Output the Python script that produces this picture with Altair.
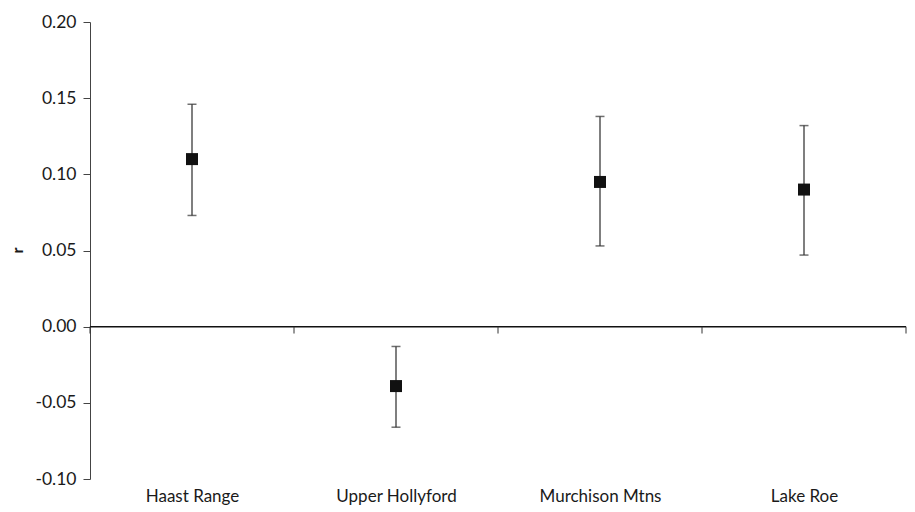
import altair as alt
import pandas as pd

categories = ["Haast Range", "Upper Hollyford", "Murchison Mtns", "Lake Roe"]
r_values = [0.110, -0.039, 0.095, 0.090]
upper = [0.146, -0.013, 0.138, 0.132]
lower = [0.073, -0.066, 0.053, 0.047]
y_ticks = [-0.10, -0.05, 0.00, 0.05, 0.10, 0.15, 0.20]
band_edges = [0, 1, 2, 3, 4]

df = pd.DataFrame({
    "site": categories,
    "pos": [i + 0.5 for i in range(len(categories))],
    "r": r_values,
    "hi": upper,
    "lo": lower,
})
edges = pd.DataFrame({"edge": band_edges, "y0": [0.0] * len(band_edges)})
zero = pd.DataFrame({"x0": [band_edges[0]], "x1": [band_edges[-1]], "y0": [0.0]})

label_expr = "[" + ",".join("'%s'" % c for c in categories) + "][floor(datum.value)]"

xscale = alt.Scale(domain=[band_edges[0], band_edges[-1]], nice=False, zero=False)
yscale = alt.Scale(domain=[-0.10, 0.20], nice=False, zero=False)

x_axis = alt.Axis(
    values=[p for p in df["pos"]], labelExpr=label_expr, ticks=False, domain=False,
    grid=False, title=None, labelPadding=9, labelFontSize=17, labelColor="#1a1a1a",
    labelFont="Lato",
)
y_axis = alt.Axis(
    values=y_ticks, labelExpr="replace(format(datum.value, '.2f'), '\u2212', '-')",
    grid=False, tickSize=7, tickColor="#444444",
    domainColor="#444444", labelPadding=7, labelFontSize=17.5, labelColor="#1a1a1a",
    labelFont="Lato", title="r", titleFont="Lato", titleFontSize=16,
    titleFontWeight="bold", titleColor="#1a1a1a", titleX=-65, titleY=228,
)

base = alt.Chart(df)

bars = base.mark_rule(color="#555555", strokeWidth=1.5).encode(
    x=alt.X("pos:Q", scale=xscale, axis=x_axis),
    y=alt.Y("lo:Q", scale=yscale, axis=y_axis),
    y2="hi:Q",
)
caps_hi = base.mark_tick(color="#333333", thickness=1.5, size=9, orient="horizontal").encode(
    x="pos:Q", y="hi:Q"
)
caps_lo = base.mark_tick(color="#333333", thickness=1.5, size=9, orient="horizontal").encode(
    x="pos:Q", y="lo:Q"
)
points = base.mark_square(size=144, color="#111111", opacity=1).encode(
    x="pos:Q", y="r:Q"
)
zero_line = alt.Chart(zero).mark_rule(color="#111111", strokeWidth=1.5).encode(
    x="x0:Q", x2="x1:Q", y="y0:Q"
)
edge_ticks = alt.Chart(edges).mark_rule(color="#333333", strokeWidth=1).encode(
    x="edge:Q", y="y0:Q", y2=alt.Y2Datum(-0.0045)
)

chart = alt.layer(zero_line, edge_ticks, bars, caps_hi, caps_lo, points).properties(
    width=816,
    height=457,
    background="white",
    autosize=alt.AutoSizeParams(type="none"),
    padding={"left": 82, "top": 14, "right": 1, "bottom": 26},
).configure_view(stroke=None)

chart.save("out.html", embed_options={"renderer": "svg", "actions": False})
